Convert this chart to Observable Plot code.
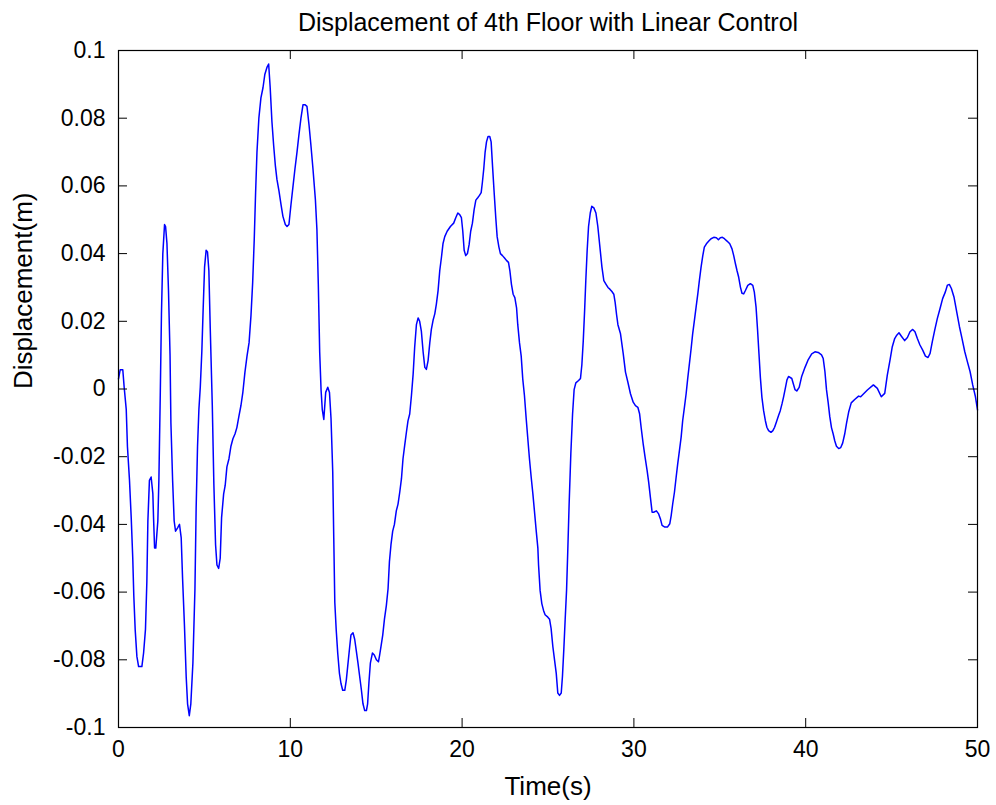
<!DOCTYPE html>
<html>
<head>
<meta charset="utf-8">
<script src="https://cdn.jsdelivr.net/npm/d3@7"></script>
<script src="https://cdn.jsdelivr.net/npm/@observablehq/plot@0.6"></script>
<style>
  html, body { margin: 0; padding: 0; background: #ffffff; }
  #chart { width: 996px; height: 805px; }
</style>
</head>
<body>
<div id="chart"></div>
<script>
// ---- Data ----
const titleText = "Displacement of 4th Floor with Linear Control";
const xLabelText = "Time(s)";
const yLabelText = "Displacement(m)";

const xTicks = [0, 10, 20, 30, 40, 50];
const xTickLabels = ["0", "10", "20", "30", "40", "50"];
const yTicks = [-0.1, -0.08, -0.06, -0.04, -0.02, 0, 0.02, 0.04, 0.06, 0.08, 0.1];
const yTickLabels = ["-0.1", "-0.08", "-0.06", "-0.04", "-0.02", "0", "0.02", "0.04", "0.06", "0.08", "0.1"];

const time = [
  0.00, 0.10, 0.25, 0.33, 0.45, 0.52, 0.64, 0.74, 0.83, 0.89, 0.97, 1.07, 1.17, 1.36, 1.46, 1.57, 1.65, 1.71, 1.80, 1.90,
  2.00, 2.04, 2.10, 2.17, 2.23, 2.29, 2.35, 2.43, 2.50, 2.58, 2.68, 2.74, 2.82, 2.91, 3.00, 3.05, 3.15, 3.24, 3.32, 3.44,
  3.55, 3.65, 3.73, 3.84, 3.94, 4.02, 4.12, 4.21, 4.33, 4.45, 4.52, 4.60, 4.68, 4.76, 4.85, 4.93, 5.01, 5.10, 5.18, 5.26,
  5.34, 5.46, 5.55, 5.65, 5.73, 5.83, 5.92, 6.00, 6.12, 6.21, 6.31, 6.43, 6.54, 6.66, 6.78, 6.89, 7.01, 7.13, 7.24, 7.36,
  7.48, 7.60, 7.71, 7.81, 7.90, 7.98, 8.06, 8.17, 8.29, 8.41, 8.52, 8.64, 8.74, 8.83, 8.93, 9.03, 9.13, 9.22, 9.34, 9.46,
  9.57, 9.71, 9.81, 9.92, 10.04, 10.16, 10.27, 10.39, 10.50, 10.62, 10.74, 10.85, 10.97, 11.09, 11.20, 11.32, 11.46, 11.55, 11.63, 11.71,
  11.79, 11.86, 11.95, 12.06, 12.18, 12.28, 12.37, 12.47, 12.53, 12.59, 12.67, 12.76, 12.86, 12.95, 13.05, 13.17, 13.26, 13.36, 13.46, 13.53,
  13.65, 13.75, 13.84, 13.94, 14.04, 14.14, 14.23, 14.33, 14.43, 14.50, 14.58, 14.66, 14.78, 14.89, 15.01, 15.13, 15.20, 15.28, 15.38, 15.48,
  15.59, 15.69, 15.77, 15.86, 15.96, 16.06, 16.17, 16.27, 16.37, 16.47, 16.56, 16.66, 16.76, 16.85, 16.95, 17.05, 17.15, 17.24, 17.34, 17.44,
  17.53, 17.63, 17.73, 17.83, 17.92, 18.02, 18.12, 18.21, 18.31, 18.41, 18.50, 18.60, 18.70, 18.80, 18.89, 18.99, 19.13, 19.32, 19.51, 19.63,
  19.75, 19.86, 19.96, 20.04, 20.12, 20.21, 20.31, 20.41, 20.50, 20.60, 20.70, 20.80, 20.91, 21.01, 21.11, 21.18, 21.26, 21.34, 21.42, 21.51,
  21.61, 21.69, 21.77, 21.86, 21.96, 22.04, 22.14, 22.23, 22.35, 22.47, 22.58, 22.70, 22.78, 22.87, 22.97, 23.07, 23.17, 23.24, 23.34, 23.44,
  23.53, 23.63, 23.73, 23.83, 23.92, 24.02, 24.12, 24.21, 24.31, 24.41, 24.45, 24.54, 24.64, 24.74, 24.83, 24.99, 25.09, 25.18, 25.28, 25.38,
  25.48, 25.57, 25.67, 25.77, 25.84, 25.92, 26.00, 26.08, 26.15, 26.23, 26.33, 26.43, 26.52, 26.62, 26.78, 26.89, 26.97, 27.05, 27.13, 27.20,
  27.28, 27.36, 27.46, 27.55, 27.67, 27.79, 27.90, 28.02, 28.14, 28.25, 28.37, 28.49, 28.60, 28.72, 28.83, 28.91, 28.99, 29.07, 29.22, 29.38,
  29.51, 29.65, 29.80, 29.96, 30.09, 30.23, 30.33, 30.42, 30.54, 30.65, 30.77, 30.86, 30.96, 31.06, 31.15, 31.31, 31.44, 31.54, 31.64, 31.80,
  31.95, 32.09, 32.17, 32.26, 32.36, 32.46, 32.55, 32.65, 32.75, 32.84, 32.94, 33.04, 33.13, 33.23, 33.33, 33.42, 33.52, 33.62, 33.72, 33.81,
  33.91, 34.01, 34.10, 34.22, 34.36, 34.49, 34.65, 34.80, 34.92, 35.03, 35.15, 35.27, 35.42, 35.58, 35.71, 35.81, 35.91, 36.00, 36.10, 36.20,
  36.29, 36.39, 36.49, 36.63, 36.78, 36.92, 37.01, 37.11, 37.20, 37.28, 37.36, 37.45, 37.55, 37.65, 37.74, 37.84, 37.98, 38.09, 38.19, 38.29,
  38.42, 38.52, 38.62, 38.71, 38.81, 38.91, 39.00, 39.19, 39.38, 39.48, 39.62, 39.77, 39.96, 40.15, 40.35, 40.54, 40.73, 40.92, 41.02, 41.12,
  41.21, 41.31, 41.40, 41.50, 41.60, 41.69, 41.79, 41.92, 42.04, 42.15, 42.27, 42.38, 42.50, 42.65, 42.85, 43.08, 43.20, 43.59, 43.94, 44.17,
  44.40, 44.60, 44.75, 44.91, 45.04, 45.18, 45.30, 45.43, 45.57, 45.76, 45.92, 46.07, 46.23, 46.36, 46.50, 46.65, 46.81, 46.97, 47.12, 47.24,
  47.37, 47.51, 47.66, 47.82, 47.97, 48.13, 48.25, 48.36, 48.48, 48.63, 48.79, 48.95, 49.10, 49.26, 49.41, 49.57, 49.72, 49.88, 50.00
];

const displacement = [
  0.0030, 0.0057, 0.0057, 0.0005, -0.0060, -0.0170, -0.0270, -0.0380, -0.0500, -0.0610, -0.0710, -0.0790, -0.0820, -0.0820, -0.0780, -0.0710, -0.0570, -0.0390, -0.0270, -0.0260,
  -0.0310, -0.0380, -0.0470, -0.0470, -0.0430, -0.0390, -0.0270, -0.0020, 0.0220, 0.0400, 0.0486, 0.0480, 0.0430, 0.0290, 0.0100, -0.0100, -0.0270, -0.0390, -0.0420, -0.0410,
  -0.0400, -0.0440, -0.0560, -0.0700, -0.0850, -0.0930, -0.0965, -0.0930, -0.0810, -0.0590, -0.0350, -0.0170, -0.0060, 0.0005, 0.0110, 0.0240, 0.0360, 0.0410, 0.0405, 0.0350,
  0.0180, -0.0050, -0.0280, -0.0460, -0.0520, -0.0530, -0.0500, -0.0380, -0.0310, -0.0285, -0.0230, -0.0206, -0.0170, -0.0147, -0.0133, -0.0114, -0.0080, -0.0048, -0.0009, 0.0050,
  0.0097, 0.0137, 0.0216, 0.0315, 0.0440, 0.0580, 0.0700, 0.0800, 0.0860, 0.0890, 0.0930, 0.0950, 0.0960, 0.0890, 0.0790, 0.0720, 0.0660, 0.0620, 0.0585, 0.0545,
  0.0510, 0.0486, 0.0480, 0.0486, 0.0545, 0.0600, 0.0650, 0.0700, 0.0750, 0.0800, 0.0840, 0.0840, 0.0835, 0.0780, 0.0720, 0.0650, 0.0560, 0.0470, 0.0310, 0.0110,
  -0.0002, -0.0060, -0.0090, -0.0010, 0.0005, -0.0010, -0.0087, -0.0245, -0.0440, -0.0630, -0.0710, -0.0780, -0.0840, -0.0870, -0.0890, -0.0890, -0.0860, -0.0810, -0.0760, -0.0727,
  -0.0720, -0.0740, -0.0773, -0.0810, -0.0850, -0.0890, -0.0930, -0.0950, -0.0950, -0.0930, -0.0865, -0.0810, -0.0780, -0.0786, -0.0800, -0.0806, -0.0786, -0.0760, -0.0727, -0.0680,
  -0.0640, -0.0590, -0.0510, -0.0460, -0.0420, -0.0400, -0.0360, -0.0340, -0.0305, -0.0265, -0.0206, -0.0166, -0.0127, -0.0094, -0.0074, -0.0020, 0.0044, 0.0124, 0.0190, 0.0210,
  0.0200, 0.0170, 0.0110, 0.0064, 0.0058, 0.0084, 0.0137, 0.0176, 0.0203, 0.0222, 0.0250, 0.0290, 0.0350, 0.0390, 0.0430, 0.0450, 0.0466, 0.0480, 0.0490, 0.0506,
  0.0520, 0.0515, 0.0506, 0.0466, 0.0410, 0.0394, 0.0400, 0.0427, 0.0466, 0.0490, 0.0530, 0.0558, 0.0565, 0.0572, 0.0580, 0.0610, 0.0650, 0.0700, 0.0730, 0.0746,
  0.0746, 0.0730, 0.0660, 0.0585, 0.0506, 0.0450, 0.0420, 0.0400, 0.0394, 0.0387, 0.0380, 0.0374, 0.0350, 0.0310, 0.0280, 0.0270, 0.0240, 0.0190, 0.0137, 0.0097,
  0.0030, -0.0020, -0.0087, -0.0150, -0.0206, -0.0260, -0.0310, -0.0360, -0.0417, -0.0470, -0.0520, -0.0595, -0.0634, -0.0654, -0.0667, -0.0674, -0.0680, -0.0707, -0.0760, -0.0800,
  -0.0840, -0.0898, -0.0905, -0.0898, -0.0850, -0.0770, -0.0680, -0.0595, -0.0480, -0.0340, -0.0190, -0.0074, -0.0002, 0.0018, 0.0025, 0.0031, 0.0071, 0.0140, 0.0230, 0.0320,
  0.0410, 0.0480, 0.0520, 0.0540, 0.0535, 0.0520, 0.0480, 0.0420, 0.0360, 0.0320, 0.0310, 0.0300, 0.0295, 0.0288, 0.0280, 0.0255, 0.0220, 0.0190, 0.0163, 0.0104,
  0.0050, 0.0020, -0.0014, -0.0039, -0.0049, -0.0054, -0.0073, -0.0113, -0.0162, -0.0201, -0.0241, -0.0275, -0.0320, -0.0364, -0.0364, -0.0360, -0.0369, -0.0383, -0.0403, -0.0408,
  -0.0408, -0.0398, -0.0374, -0.0339, -0.0305, -0.0260, -0.0221, -0.0182, -0.0142, -0.0093, -0.0054, -0.0014, 0.0030, 0.0074, 0.0119, 0.0163, 0.0202, 0.0242, 0.0281, 0.0320,
  0.0360, 0.0394, 0.0419, 0.0429, 0.0437, 0.0444, 0.0448, 0.0447, 0.0441, 0.0447, 0.0448, 0.0444, 0.0437, 0.0429, 0.0414, 0.0394, 0.0370, 0.0350, 0.0330, 0.0301,
  0.0283, 0.0281, 0.0291, 0.0306, 0.0311, 0.0306, 0.0286, 0.0242, 0.0173, 0.0104, 0.0035, -0.0024, -0.0064, -0.0093, -0.0113, -0.0123, -0.0128, -0.0123, -0.0113, -0.0098,
  -0.0078, -0.0064, -0.0044, -0.0024, 0.0001, 0.0027, 0.0037, 0.0031, -0.0002, -0.0006, 0.0005, 0.0038, 0.0064, 0.0087, 0.0104, 0.0110, 0.0108, 0.0101, 0.0090, 0.0051,
  -0.0002, -0.0041, -0.0081, -0.0114, -0.0133, -0.0153, -0.0169, -0.0176, -0.0173, -0.0160, -0.0133, -0.0100, -0.0068, -0.0041, -0.0031, -0.0021, -0.0023, -0.0003, 0.0012, 0.0002,
  -0.0023, -0.0013, 0.0041, 0.0086, 0.0125, 0.0149, 0.0159, 0.0166, 0.0156, 0.0143, 0.0152, 0.0169, 0.0176, 0.0169, 0.0149, 0.0130, 0.0115, 0.0097, 0.0093, 0.0105,
  0.0140, 0.0174, 0.0208, 0.0238, 0.0267, 0.0287, 0.0307, 0.0309, 0.0297, 0.0272, 0.0228, 0.0184, 0.0149, 0.0110, 0.0081, 0.0051, 0.0012, -0.0023, -0.0062
];

// ---- Chart ----
const W = 996, H = 805;
const mL = 118, mR = 19, mT = 50, mB = 78;
const plotW = W - mL - mR, plotH = H - mT - mB;
const tickLen = 9;
const font = "'Liberation Sans', Arial, Helvetica, sans-serif";

const series = time.map((t, i) => ({t, d: displacement[i]}));
const xLab = new Map(xTicks.map((v, i) => [v, xTickLabels[i]]));
const yLab = new Map(yTicks.map((v, i) => [v, yTickLabels[i]]));

const chart = Plot.plot({
  width: W,
  height: H,
  marginLeft: mL,
  marginRight: mR,
  marginTop: mT,
  marginBottom: mB,
  style: {fontFamily: font, fontSize: "23px", background: "#ffffff", color: "#000000"},
  x: {domain: [0, 50]},
  y: {domain: [-0.1, 0.1]},
  marks: [
    Plot.line(series, {x: "t", y: "d", stroke: "#0000ff", strokeWidth: 1.5}),
    // inward ticks on all four sides (MATLAB-style box)
    Plot.tickX(xTicks, {x: d => d, insetTop: plotH - tickLen, stroke: "#000", strokeWidth: 1}),
    Plot.tickX(xTicks, {x: d => d, insetBottom: plotH - tickLen, stroke: "#000", strokeWidth: 1}),
    Plot.tickY(yTicks, {y: d => d, insetRight: plotW - tickLen, stroke: "#000", strokeWidth: 1}),
    Plot.tickY(yTicks, {y: d => d, insetLeft: plotW - tickLen, stroke: "#000", strokeWidth: 1}),
    Plot.frame({stroke: "#000", strokeWidth: 1.2}),
    Plot.axisX({ticks: xTicks, tickSize: 0, tickPadding: 13, tickFormat: d => xLab.get(d), label: null, fontSize: 23}),
    Plot.axisY({ticks: yTicks, tickSize: 0, tickPadding: 13, tickFormat: d => yLab.get(d), label: null, fontSize: 23}),
    Plot.text([titleText], {text: d => d, frameAnchor: "top", lineAnchor: "middle", dy: -28, fontSize: 25, fill: "#000"}),
    Plot.text([xLabelText], {text: d => d, frameAnchor: "bottom", lineAnchor: "middle", dy: 59, fontSize: 26, fill: "#000"}),
    Plot.text([yLabelText], {text: d => d, frameAnchor: "left", lineAnchor: "middle", dx: -95, rotate: -90, fontSize: 26, fill: "#000"})
  ]
});

document.getElementById("chart").appendChild(chart);
</script>
</body>
</html>
